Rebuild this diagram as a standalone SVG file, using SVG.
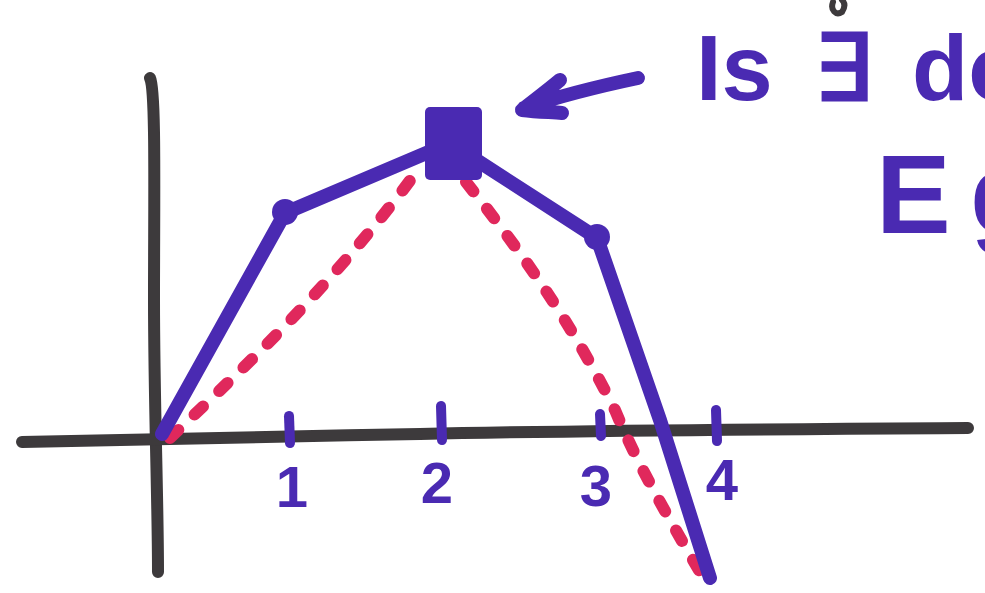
<svg xmlns="http://www.w3.org/2000/svg" width="985" height="593" viewBox="0 0 985 593">
<style>
.axis{fill:none;stroke:#3d3a3c;stroke-width:12;stroke-linecap:round;stroke-linejoin:round}
.blue{fill:none;stroke:#4a2ab2;stroke-width:14;stroke-linecap:round;stroke-linejoin:round}
.tick{fill:none;stroke:#4a2ab2;stroke-width:10;stroke-linecap:round}
.red{fill:none;stroke:#e0285c;stroke-width:12;stroke-linecap:round;stroke-dasharray:12 22}
.hand{fill:#4a2ab2;font-family:"Liberation Sans",Arial,sans-serif;font-weight:bold}
</style>
<rect width="985" height="593" fill="#ffffff"/>
<g id="axes">
<path class="axis" d="M150,78 C156,90 154,200 154,300 C154,400 158,500 158,572"/>
<path class="axis" d="M22,442 C200,438 300,436 420,434 C600,430 800,429 968,428"/>
<path d="M833,2 C830,10 836,16 842,12 C846,6 844,2 842,0" fill="none" stroke="#3d3a3c" stroke-width="6" stroke-linecap="round"/>
</g>
<g id="ticks">
<line class="tick" x1="289" y1="416" x2="290" y2="443"/>
<line class="tick" x1="441" y1="406" x2="442" y2="440"/>
<line class="tick" x1="600" y1="414" x2="601" y2="436"/>
<line class="tick" x1="716" y1="410" x2="717" y2="441"/>
</g>
<g id="labels">
<text class="hand" x="292" y="507" font-size="58" text-anchor="middle">1</text>
<text class="hand" x="437" y="503" font-size="58" text-anchor="middle">2</text>
<text class="hand" x="596" y="506" font-size="58" text-anchor="middle">3</text>
<text class="hand" x="722" y="500" font-size="58" text-anchor="middle">4</text>
</g>
<g id="red-curve">
<path class="red" d="M170,438 C230,380 320,300 412,178"/>
<path class="red" d="M466,182 C520,250 570,320 615,410 C640,470 670,520 700,572"/>
</g>
<g id="blue-curve">
<polyline class="blue" points="162,434 285,213 450,143 597,238 660,420 710,578"/>
<circle cx="285" cy="212" r="13" fill="#4a2ab2"/>
<circle cx="597" cy="237" r="13" fill="#4a2ab2"/>
<rect x="425" y="107" width="57" height="73" rx="5" fill="#4a2ab2"/>
</g>
<g id="arrow">
<path class="blue" d="M638,78 C600,86 560,96 524,108 M560,80 C548,90 535,100 522,110 C538,112 552,112 562,113" stroke-width="11"/>
</g>
<g id="note">
<text class="hand" font-size="92" y="100"><tspan x="696">Is</tspan><tspan x="814">∃</tspan><tspan x="912">do</tspan></text>
<text class="hand" font-size="112" y="233"><tspan x="876">E</tspan><tspan x="970">g</tspan></text>
</g>
</svg>
